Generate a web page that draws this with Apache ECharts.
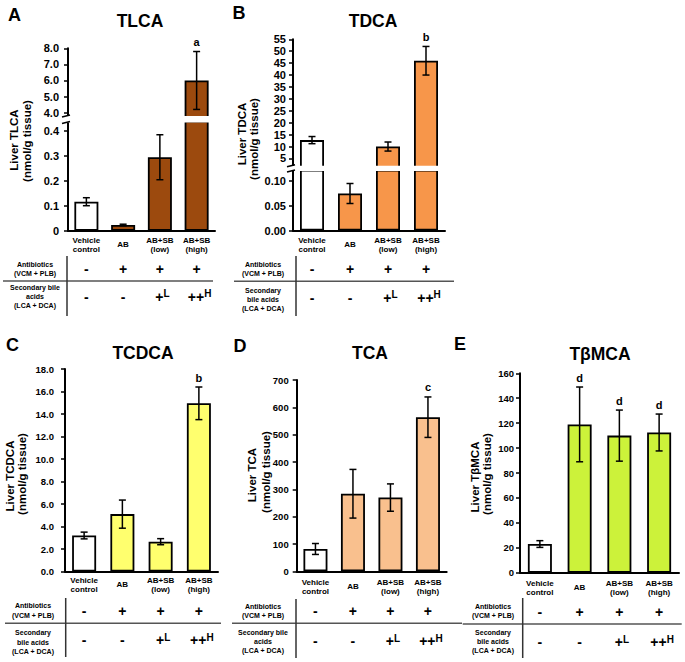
<!DOCTYPE html>
<html><head><meta charset="utf-8">
<script src="https://cdn.jsdelivr.net/npm/echarts@6/dist/echarts.min.js"></script>
<style>html,body{margin:0;padding:0;background:#fff}#c{width:685px;height:662px}</style>
</head><body><div id="c"></div>
<script>
// ---------- data ----------
const categories = ['Vehicle\ncontrol', 'AB', 'AB+SB\n(low)', 'AB+SB\n(high)'];
const antibioticsRow = ['-', '+', '+', '+'];
const bileRow = ['-', '-', '+', '++'];
const bileSup = ['', '', 'L', 'H'];

const tlcaMean = [0.116, 0.023, 0.294, 6.0];
const tlcaErr  = [0.016, 0.003, 0.09, 1.8];
const tlcaSig  = ['', '', '', 'a'];
const tlcaUpperTicks = [4, 5, 6, 7, 8];

const tdcaMean = [12.7, 0.074, 10.0, 46.0];
const tdcaErr  = [1.5, 0.02, 1.9, 6.0];
const tdcaSig  = ['', '', '', 'b'];
const tdcaUpperTicks = [5, 10, 15, 20, 25, 30, 35, 40, 45, 50, 55];

const tcdcaMean = [3.2, 5.1, 2.65, 14.95];
const tcdcaErr  = [0.3, 1.25, 0.27, 1.45];
const tcdcaSig  = ['', '', '', 'b'];

const tcaMean = [82, 284, 270, 564];
const tcaErr  = [20, 89, 50, 74];
const tcaSig  = ['', '', '', 'c'];

const tbmcaMean = [23, 119, 110, 112.5];
const tbmcaErr  = [2.7, 30, 20.5, 14.8];
const tbmcaSig  = ['', 'd', 'd', 'd'];

// ---------- layout / style ----------
const FONT = '"Liberation Sans", Arial, Helvetica, sans-serif';
const panels = [
  {letter:'A', letterPos:[14.5,14.5], title:'TLCA', titlePos:[140,21], name:['Liver TLCA','(nmol/g tissue)'], namePos:[[14,140],[27,141]],
   color:'#9C4A0E', mean:tlcaMean, err:tlcaErr, sig:tlcaSig, left:68, width:147, labelMargin:9, labelSize:11,
   segs:[{top:48.3,height:68.7,min:3.73,max:8,ticks:tlcaUpperTicks,dec:1},
         {top:121.5,height:109.2,min:0,max:0.437,interval:0.1,dec:1,zeroPlain:true}],
   gap:[116,122.5], catMargin:5, rowOffsets:[38.3,66],
   headerX:35, headerY:[269,296.7], bile:['Secondary bile','acids','(LCA + DCA)'], hLine:[3,213,281], vLine:[67,256,316]},
  {letter:'B', letterPos:[239,12.5], title:'TDCA', titlePos:[373,20.5], name:['Liver TDCA','(nmol/g tissue)'], namePos:[[242,134],[254,139]],
   color:'#F7964A', mean:tdcaMean, err:tdcaErr, sig:tdcaSig, left:293, width:152, labelMargin:7, labelSize:11,
   segs:[{top:39.3,height:127.5,min:1.5,max:55,ticks:tdcaUpperTicks,dec:0},
         {top:170.5,height:60,min:0,max:0.12,interval:0.05,dec:2}],
   gap:[165.8,171], catMargin:5, rowOffsets:[38.8,67],
   headerX:263, headerY:[269.2,299.3], bile:['Secondary','bile acids','(LCA + DCA)'], hLine:[234,454,281.3], vLine:[296,256,316]},
  {letter:'C', letterPos:[12.5,345], title:'TCDCA', titlePos:[143,353], name:['Liver TCDCA','(nmol/g tissue)'], namePos:[[10,476],[22,474]],
   color:'#FFFF6E', mean:tcdcaMean, err:tcdcaErr, sig:tcdcaSig, left:65, width:153, labelMargin:11, labelSize:9.5,
   segs:[{top:369,height:202.5,min:0,max:18,interval:2,dec:1}],
   catMargin:4, rowOffsets:[39.2,68.5],
   headerX:33, headerY:[610.5,642], bile:['Secondary','bile acids','(LCA + DCA)'], hLine:[5,221,623.3], vLine:[65.7,598,657]},
  {letter:'D', letterPos:[240,346], title:'TCA', titlePos:[370,353], name:['Liver TCA','(nmol/g tissue)'], namePos:[[252,475],[265.5,472]],
   color:'#F9C08E', mean:tcaMean, err:tcaErr, sig:tcaSig, left:296.7, width:150, labelMargin:8, labelSize:9.5,
   segs:[{top:380,height:191.4,min:0,max:700,interval:100,dec:0}],
   catMargin:6, rowOffsets:[39.3,70],
   headerX:263, headerY:[611,641.5], bile:['Secondary bile','acids','(LCA + DCA)'], hLine:[232,462,623.3], vLine:[296,599,658]},
  {letter:'E', letterPos:[460,343.5], title:'T\u03b2MCA', titlePos:[600,354], name:['Liver T\u03b2MCA','(nmol/g tissue)'], namePos:[[475,477],[487,474]],
   color:'#CCF23A', mean:tbmcaMean, err:tbmcaErr, sig:tbmcaSig, left:520, width:159, labelMargin:6, labelSize:9.5,
   segs:[{top:373.3,height:199.4,min:0,max:160,interval:20,dec:0}],
   catMargin:6, rowOffsets:[39,69.3],
   headerX:493, headerY:[611.2,641.5], bile:['Secondary','bile acids','(LCA + DCA)'], hLine:[462.7,681.7,624], vLine:[522.7,598,658]}
];

function catFormatter(v) {
  return v.indexOf('\n') >= 0 ? v.split('\n').map(t => '{t|' + t + '}').join('\n') : '{one|' + v + '}';
}
const symRich = {
  p:  {fontFamily:FONT, fontSize:14, fontWeight:'bold', color:'#000', lineHeight:22},
  pL: {fontFamily:FONT, fontSize:14, fontWeight:'bold', color:'#000', lineHeight:22, padding:[0,0,0,5]},
  pH: {fontFamily:FONT, fontSize:14, fontWeight:'bold', color:'#000', lineHeight:22, padding:[0,0,0,6]},
  s:  {fontFamily:FONT, fontSize:10, fontWeight:'bold', color:'#000', lineHeight:10, verticalAlign:'top', padding:[3,0,0,0]}
};
function rowAxis(g, offset, fmt) {
  return {gridIndex:g, type:'category', data:categories, position:'bottom', offset:offset,
    axisLine:{show:false, onZero:false}, axisTick:{show:false}, splitLine:{show:false},
    axisLabel:{margin:0, interval:0, hideOverlap:false, verticalAlign:'middle', formatter:fmt, rich:symRich}};
}
function errRender(sig) {
  return function (params, api) {
    const i = api.value(0), m = api.value(1), e = api.value(2);
    const top = api.coord([i, m + e]), bot = api.coord([i, m - e]);
    const cs = params.coordSys;
    if (top[1] < cs.y - 0.5 || bot[1] > cs.y + cs.height + 0.5) return null;
    const x = top[0], w = 3.5;
    const ls = {stroke:'#000', lineWidth:1.5};
    const children = [
      {type:'line', shape:{x1:x, y1:top[1], x2:x, y2:bot[1]}, style:ls},
      {type:'line', shape:{x1:x - w, y1:top[1], x2:x + w, y2:top[1]}, style:ls},
      {type:'line', shape:{x1:x - w, y1:bot[1], x2:x + w, y2:bot[1]}, style:ls}
    ];
    const s = sig[params.dataIndex];
    if (s) children.push({type:'text', style:{text:s, x:x, y:top[1] - 4, align:'center', verticalAlign:'bottom',
      textAlign:'center', textVerticalAlign:'bottom', font:'bold 11px ' + FONT, fill:'#000'}});
    return {type:'group', children:children};
  };
}
function gText(text, x, y, font, rot, lh) {
  const el = {type:'text', x:x, y:y, z:110, style:{text:text, x:0, y:0, font:font, fill:'#000',
    align:'center', verticalAlign:'middle', textAlign:'center', textVerticalAlign:'middle'}};
  if (lh) el.style.lineHeight = lh;
  if (rot) el.rotation = rot;
  return el;
}
function gLine(x1, y1, x2, y2, color, w) {
  return {type:'line', z:120, shape:{x1:x1, y1:y1, x2:x2, y2:y2}, style:{stroke:color, lineWidth:w}};
}

const grids = [], xAxes = [], yAxes = [], series = [], graphics = [];
panels.forEach(p => {
  const n = p.segs.length;
  p.segs.forEach((s, k) => {
    const g = grids.length;
    grids.push({left:p.left, top:s.top, width:p.width, height:s.height, containLabel:false});
    const xi = xAxes.length;
    if (k === n - 1) {
      xAxes.push({gridIndex:g, type:'category', data:categories, position:'bottom',
        axisLine:{onZero:false, lineStyle:{color:'#000', width:2}}, axisTick:{show:false}, splitLine:{show:false},
        axisLabel:{margin:p.catMargin, color:'#000', formatter:catFormatter, interval:0, hideOverlap:false,
          rich:{t:{fontFamily:FONT, fontSize:8, fontWeight:'bold', lineHeight:9.3, color:'#000'},
                one:{fontFamily:FONT, fontSize:8, fontWeight:'bold', lineHeight:18.6, color:'#000'}}}});
      xAxes.push(rowAxis(g, p.rowOffsets[0], (v, i) => '{p|' + antibioticsRow[i] + '}'));
      xAxes.push(rowAxis(g, p.rowOffsets[1], (v, i) => bileSup[i]
        ? '{p' + bileSup[i] + '|' + bileRow[i] + '}{s|' + bileSup[i] + '}'
        : '{p|' + bileRow[i] + '}'));
    } else {
      xAxes.push({gridIndex:g, type:'category', data:categories, show:false, axisLine:{onZero:false}});
    }
    yAxes.push({gridIndex:g, type:'value', min:s.min, max:s.max, interval:s.interval, splitLine:{show:false},
      axisLine:{show:true, onZero:false, lineStyle:{color:'#000', width:2}},
      axisTick:{show:true, length:4, lineStyle:{color:'#000', width:1.5}, customValues:s.ticks},
      axisLabel:{margin:p.labelMargin, color:'#000', fontFamily:FONT, fontSize:p.labelSize, fontWeight:'bold',
        customValues:s.ticks, formatter:v => (s.zeroPlain && v === 0) ? '0' : v.toFixed(s.dec)}});
    series.push({type:'bar', xAxisIndex:xi, yAxisIndex:g, barWidth:24, clip:true, animation:false,
      data:p.mean.map((v, i) => ({value:v, itemStyle:{color:i === 0 ? '#ffffff' : p.color}})),
      itemStyle:{borderColor:'#000', borderWidth:1.8}, emphasis:{disabled:true}, silent:true});
    series.push({type:'custom', xAxisIndex:xi, yAxisIndex:g, renderItem:errRender(p.sig), z:5, animation:false,
      data:p.mean.map((v, i) => [i, v, p.err[i]]), encode:{x:0, y:1}, silent:true});
  });
  // decorations
  graphics.push(gText(p.letter, p.letterPos[0], p.letterPos[1], 'bold 18px ' + FONT));
  graphics.push(gText(p.title, p.titlePos[0], p.titlePos[1], 'bold 17.5px ' + FONT));
  graphics.push(gText(p.name[0], p.namePos[0][0], p.namePos[0][1], 'bold 11.5px ' + FONT, Math.PI / 2));
  graphics.push(gText(p.name[1], p.namePos[1][0], p.namePos[1][1], 'bold 11.5px ' + FONT, Math.PI / 2));
  graphics.push(gText('Antibiotics\n(VCM + PLB)', p.headerX, p.headerY[0], 'bold 7px ' + FONT, 0, 9.3));
  graphics.push(gText(p.bile.join('\n'), p.headerX, p.headerY[1], 'bold 7px ' + FONT, 0, 9.3));
  graphics.push(gLine(p.hLine[0], p.hLine[2], p.hLine[1], p.hLine[2], '#555', 1.5));
  graphics.push(gLine(p.vLine[0], p.vLine[1], p.vLine[0], p.vLine[2], '#333', 1.5));
  if (p.gap) {
    graphics.push({type:'rect', z:100, shape:{x:p.left - 9, y:p.gap[0], width:p.width + 12, height:p.gap[1] - p.gap[0]},
      style:{fill:'#ffffff'}});
    graphics.push(gLine(p.left - 6, p.gap[0] + 1, p.left + 2, p.gap[0] - 1, '#000', 1.5));
    graphics.push(gLine(p.left - 6, p.gap[1] + 1, p.left + 2, p.gap[1] - 1, '#000', 1.5));
  }
});

const chart = echarts.init(document.getElementById('c'), null, {renderer:'svg'});
chart.setOption({
  backgroundColor:'#ffffff', animation:false,
  textStyle:{fontFamily:FONT},
  grid:grids, xAxis:xAxes, yAxis:yAxes, series:series,
  graphic:{elements:graphics}
});
</script></body></html>
